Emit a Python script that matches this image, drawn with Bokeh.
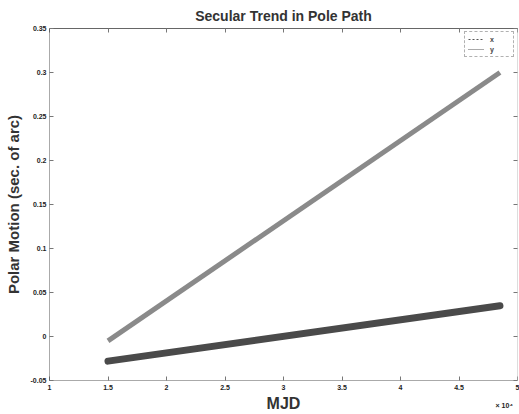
from bokeh.plotting import figure
from bokeh.models import (LinearAxis, FixedTicker, CustomJSTickFormatter, Range1d,
                          Legend, LegendItem, ColumnDataSource)
from bokeh.embed import file_html
from bokeh.resources import INLINE

# MJD in units of 10^4
mjd = [1.5, 4.85]
pole_x = [-0.005, 0.300]
pole_y = [-0.028, 0.035]
x_ticks = [1, 1.5, 2, 2.5, 3, 3.5, 4, 4.5, 5]
y_ticks = [-0.05, 0, 0.05, 0.1, 0.15, 0.2, 0.25, 0.3, 0.35]
x_scale_text = "× 10⁴"

FONT = "Liberation Sans"

p = figure(width=519, height=414, output_backend="svg", toolbar_location=None,
           x_range=Range1d(1, 5), y_range=Range1d(-0.05, 0.35),
           min_border_left=49, min_border_right=2, min_border_top=4,
           min_border_bottom=30, background_fill_color="white",
           border_fill_color="white", outline_line_color=None)

p.title.text = "Secular Trend in Pole Path"
p.title.align = "center"
p.title.text_font = FONT
p.title.text_font_size = "14px"
p.title.text_font_style = "bold"
p.title.text_color = "#333333"
p.title.offset = 0

p.xgrid.visible = False
p.ygrid.visible = False

fmt = CustomJSTickFormatter(code="return Number(tick.toFixed(2)).toString();")

for ax in p.xaxis + p.yaxis:
    ax.major_label_text_font = FONT
    ax.major_label_text_font_size = "7px"
    ax.major_label_text_font_style = "bold"
    ax.major_label_text_color = "#222222"
    ax.axis_line_dash = "1 1"
    ax.axis_line_color = "#555555"
    ax.major_tick_in = 4
    ax.major_tick_out = 0
    ax.minor_tick_line_color = None
    ax.major_tick_line_color = "#777777"
    ax.formatter = fmt
    ax.axis_label_text_font = FONT
    ax.axis_label_text_font_style = "bold"
    ax.axis_label_text_color = "#333333"

p.xaxis.ticker = FixedTicker(ticks=x_ticks)
p.yaxis.ticker = FixedTicker(ticks=y_ticks)
p.xaxis.axis_label = "MJD"
p.xaxis.axis_label_text_font_size = "16px"
p.xaxis.axis_label_standoff = 2
p.xaxis.major_label_standoff = 4
p.yaxis.axis_label = "Polar Motion (sec. of arc)"
p.yaxis.axis_label_text_font_size = "15px"
p.yaxis.axis_label_standoff = 6
p.yaxis.major_label_standoff = 3

top = LinearAxis(ticker=FixedTicker(ticks=x_ticks), major_label_text_font_size="7px",
                 major_label_text_color=None,
                 major_tick_in=4, major_tick_out=0, minor_tick_line_color=None,
                 axis_line_color="#666666", major_tick_line_color="#777777")
right = LinearAxis(ticker=FixedTicker(ticks=y_ticks), major_label_text_font_size="7px",
                   major_label_text_color=None,
                   major_tick_in=4, major_tick_out=0, minor_tick_line_color=None,
                   axis_line_color="#bbbbbb", axis_line_dash="1 1",
                   major_tick_line_color="#777777")
p.add_layout(top, "above")
p.add_layout(right, "right")

# scale-factor text under the x axis (second axis with a single tick label)
scale_ax = LinearAxis(ticker=FixedTicker(ticks=[5]), major_label_overrides={5: x_scale_text},
                      major_label_text_font=FONT, major_label_text_font_size="7px",
                      major_label_text_font_style="bold", major_label_text_color="#222222",
                      major_label_text_align="right", major_label_standoff=-13,
                      axis_line_color=None, major_tick_line_color=None,
                      minor_tick_line_color=None, major_tick_in=0, major_tick_out=0)
p.add_layout(scale_ax, "below")

src = ColumnDataSource(dict(mjd=mjd, px=pole_x, py=pole_y))
p.line("mjd", "px", source=src, line_color="#8a8a8a", line_width=5)
p.line("mjd", "py", source=src, line_color="#4a4a4a", line_width=7, line_cap="round")

# legend proxies
lx = p.line(x=[0], y=[0], line_color="#555555", line_width=1, line_dash="2 2")
ly = p.line(x=[0], y=[0], line_color="#555555", line_width=1, line_dash="1 1")
legend = Legend(items=[LegendItem(label="x", renderers=[lx]),
                       LegendItem(label="y", renderers=[ly])],
                location="top_right", label_text_font=FONT,
                label_text_font_size="7px", label_text_font_style="bold",
                glyph_width=16, glyph_height=8, label_height=8,
                spacing=2, padding=3, margin=3,
                border_line_color="#666666", border_line_dash="1 1",
                label_standoff=6)
p.add_layout(legend)

open("out.html", "w").write(file_html(p, INLINE))
